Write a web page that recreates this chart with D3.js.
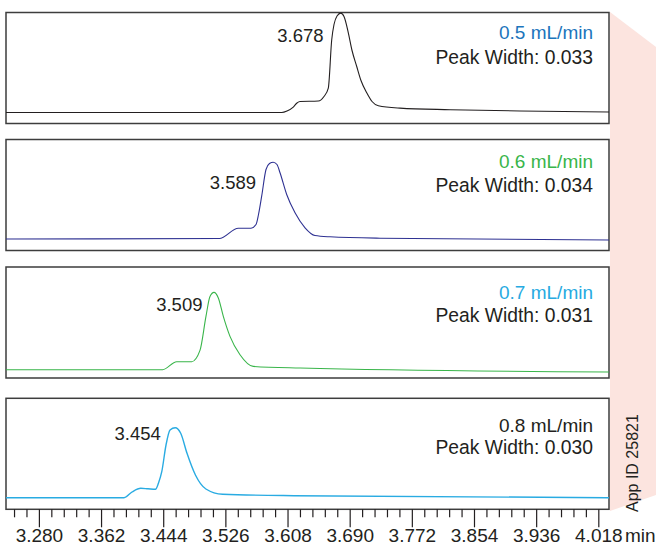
<!DOCTYPE html>
<html>
<head>
<meta charset="utf-8">
<script src="https://cdn.jsdelivr.net/npm/d3@7"></script>
<style>
  body { margin: 0; background: #fff; }
  svg { display: block; font-family: "Liberation Sans", Arial, sans-serif; }
</style>
</head>
<body>
<div id="chart"></div>
<script>
// Chart values

const flowRates = ["0.5 mL/min", "0.6 mL/min", "0.7 mL/min", "0.8 mL/min"];
const peakTimes = ["3.678", "3.589", "3.509", "3.454"];
const peakWidths = ["0.033", "0.034", "0.031", "0.030"];
const tickLabels = ["3.280", "3.362", "3.444", "3.526", "3.608", "3.690", "3.772", "3.854", "3.936", "4.018"];

// [time (min), signal] for each flow rate
const trace05 = [
  [3.2366, 0], [3.6003, 0], [3.6073, 1.5], [3.6156, 5.4], [3.6205, 9.5], [3.6245, 11],
  [3.6486, 11.5], [3.6561, 16], [3.6618, 24.4], [3.6663, 72.7], [3.6693, 88], [3.6733, 96.5],
  [3.6782, 99.4], [3.6825, 96], [3.6882, 79.7], [3.6931, 62], [3.6993, 46], [3.7049, 32],
  [3.7125, 19.7], [3.7195, 11], [3.7278, 6.7], [3.7564, 4.4], [3.8224, 2.8], [3.9147, 1.5], [4.0321, 0.5]
];
const trace06 = [
  [3.2366, 0.5], [3.5180, 1.0], [3.5431, 11.3], [3.5598, 11.3], [3.5664, 15], [3.5697, 25],
  [3.5739, 43.3], [3.5796, 70], [3.5842, 76], [3.5892, 77.3], [3.5941, 75], [3.5981, 66.7],
  [3.6069, 45], [3.6179, 26.7], [3.6311, 11.7], [3.6442, 4], [3.6640, 2.7], [3.7300, 1.3], [4.0321, -0.5]
];
const trace07 = [
  [3.2366, -2.7], [3.4433, -2.7], [3.4618, 5.3], [3.4816, 5.3], [3.4925, 16.6], [3.5004, 50.6],
  [3.5057, 70.6], [3.5110, 74.6], [3.5167, 69], [3.5233, 50.6], [3.5321, 30.6], [3.5453, 12.3],
  [3.5628, 0.6], [3.6245, -1.0], [4.0321, -5]
];
const trace08 = [
  [3.2366, 0.6], [3.3923, 0.6], [3.4028, 6.3], [3.4144, 10], [3.4239, 9.5], [3.4338, 9],
  [3.4378, 15.3], [3.4421, 26.6], [3.4477, 53.3], [3.4530, 68.3], [3.4598, 70.6], [3.4671, 65],
  [3.4754, 45], [3.4865, 23.3], [3.5003, 9.3], [3.5225, 4], [3.6165, 2.6], [4.0321, 0.6]
];
const traces = [trace05, trace06, trace07, trace08];

// Layout

const width = 656, height = 545;
const plotLeft = 6, plotRight = 609;
const panelTops = [12.5, 139.5, 267, 398.3];
const panelHeight = 111;
const traceColors = ["#231f20", "#2e3192", "#39b54a", "#29abe2"];
const rateColors = ["#1c75bc", "#39b54a", "#27aae1", "#231f20"];
const rateDy = [[26.7, 51], [28.8, 52.3], [32, 54.8], [33.8, 56]];
const peakLabelOffset = [[-17, 29.2], [-17, 49.8], [-10, 43.7], [-10, 41.7]];
const textColor = "#231f20";

const svg = d3.select("#chart")
  .append("svg")
  .attr("width", width)
  .attr("height", height);

// pink tab on the right
svg.append("polygon")
  .attr("points", "610,12 656,47 656,495 610,511")
  .attr("fill", "#fce4df");

const x = d3.scaleLinear()
  .domain([3.2366, 4.0321])
  .range([plotLeft, plotRight]);

traces.forEach((trace, i) => {
  const top = panelTops[i];
  const bottom = top + panelHeight;

  const y = d3.scaleLinear()
    .domain([-11, 100])
    .range([bottom, top]);

  const g = svg.append("g");

  g.append("rect")
    .attr("x", plotLeft)
    .attr("y", top)
    .attr("width", plotRight - plotLeft)
    .attr("height", panelHeight)
    .attr("fill", "#fff")
    .attr("stroke", "#3d3d3d")
    .attr("stroke-width", 1.5);

  const line = d3.line()
    .x(d => x(d[0]))
    .y(d => y(d[1]))
    .curve(d3.curveMonotoneX);

  g.append("path")
    .datum(trace)
    .attr("d", line)
    .attr("fill", "none")
    .attr("stroke", traceColors[i])
    .attr("stroke-width", i === 3 ? 1.4 : 1.1);

  g.append("text")
    .attr("x", x(+peakTimes[i]) + peakLabelOffset[i][0])
    .attr("y", top + peakLabelOffset[i][1])
    .attr("text-anchor", "end")
    .attr("font-size", 18.5)
    .attr("fill", textColor)
    .text(peakTimes[i]);

  g.append("text")
    .attr("x", 593)
    .attr("y", top + rateDy[i][0])
    .attr("text-anchor", "end")
    .attr("font-size", 19)
    .attr("fill", rateColors[i])
    .text(flowRates[i]);

  g.append("text")
    .attr("x", 593)
    .attr("y", top + rateDy[i][1])
    .attr("text-anchor", "end")
    .attr("font-size", 19.3)
    .attr("fill", textColor)
    .text("Peak Width: " + peakWidths[i]);
});

// x axis under the last panel
const axisY = panelTops[3] + panelHeight;

const minorTicks = d3.range(-2, 46)
  .filter(k => k % 5 !== 0)
  .map(k => 3.280 + k * 0.0164);

svg.append("g")
  .attr("transform", `translate(0,${axisY})`)
  .call(d3.axisBottom(x).tickValues(minorTicks).tickSize(8).tickFormat(""))
  .call(g => g.select(".domain").remove())
  .call(g => g.selectAll("line").attr("stroke", textColor).attr("stroke-width", 1.2));

const majorAxis = svg.append("g")
  .attr("transform", `translate(0,${axisY})`)
  .call(d3.axisBottom(x).tickValues(tickLabels.map(Number)).tickSize(18).tickFormat((d, i) => tickLabels[i]))
  .attr("font-size", 19)
  .attr("font-family", null);

majorAxis.select(".domain").remove();
majorAxis.selectAll("line").attr("stroke", textColor).attr("stroke-width", 1.2);
majorAxis.selectAll("text")
  .attr("y", 33)
  .attr("dy", null)
  .style("font-size", "19px")
  .attr("fill", textColor);

svg.append("text")
  .attr("x", 625)
  .attr("y", axisY + 33)
  .attr("font-size", 19)
  .attr("fill", textColor)
  .text("min");

svg.append("text")
  .attr("transform", "translate(638,512) rotate(-90)")
  .attr("font-size", 16)
  .attr("fill", textColor)
  .text("App ID 25821");
</script>
</body>
</html>
